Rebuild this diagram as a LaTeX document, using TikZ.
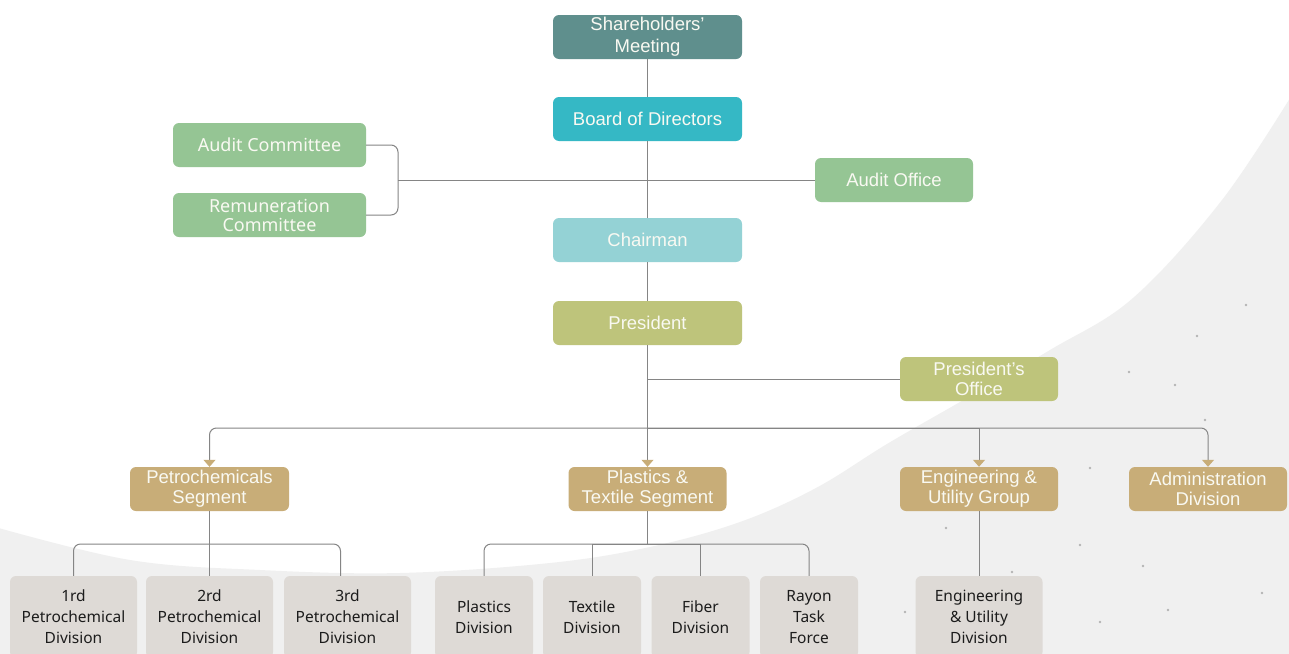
\documentclass[tikz,border=0pt]{standalone}
\usepackage{fontspec}
\setmainfont{Liberation Sans}
\newfontfamily\notosans{Noto Sans}
\usetikzlibrary{arrows.meta}

\definecolor{cShare}{HTML}{5F8F8D}
\definecolor{cBoard}{HTML}{35B8C5}
\definecolor{cChair}{HTML}{94D2D5}
\definecolor{cPres}{HTML}{BEC47B}
\definecolor{cAudit}{HTML}{95C594}
\definecolor{cSeg}{HTML}{C8AD78}
\definecolor{cDiv}{HTML}{DEDAD6}
\definecolor{cLine}{HTML}{858585}
\definecolor{cText}{HTML}{F9F9F2}
\definecolor{cDark}{HTML}{1C1C1C}
\definecolor{cGround}{HTML}{F0F0F0}
\definecolor{cSpeck}{HTML}{B4B4B4}

\tikzset{
  box/.style={rectangle, rounded corners=6pt, inner sep=0pt, align=center,
    text=cText, font=\fontsize{18.5}{20}\selectfont},
  wide/.style={box, minimum width=189pt, minimum height=44pt},
  mid/.style={box, minimum width=158pt, minimum height=44pt},
  cmte/.style={box, fill=cAudit, minimum width=193pt, minimum height=44pt,
    font=\notosans\fontsize{18}{19}\selectfont},
  seg/.style={mid, fill=cSeg},
  divbox/.style={rectangle, rounded corners=6pt, inner sep=0pt, align=center,
    fill=cDiv, text=cDark, minimum height=82pt,
    font=\notosans\fontsize{15.5}{21}\selectfont},
  conn/.style={draw=cLine, line width=1pt},
  tosegment/.style={conn, -{Triangle[width=12pt,length=7pt,color=cSeg]}},
  speck/.style={fill=cSpeck},
}

\begin{document}
\begin{tikzpicture}[x=1pt, y=-1pt]
\useasboundingbox (0,0) rectangle (1289,653);
\clip (0,0) rectangle (1289,653);
\fill[white] (0,0) rectangle (1289,653);

% textured ground sweeping up to the right
\fill[cGround] plot[smooth, tension=0.6] coordinates {
  (-5,527) (130,560) (260,570) (400,573) (550,563) (650,547) (740,522)
  (816,488) (887,444) (960,402) (1050,350) (1133,298) (1222,200) (1295,90)}
  -- (1300,670) -- (-10,670) -- cycle;
\foreach \p in {(1175,385),(1129,372),(1197,336),(1246,305),(1035,500),
  (946,528),(1090,468),(1012,572),(1143,566),(1262,593),(1100,622),
  (905,612),(1168,610),(1230,470),(1080,545),(1205,420)}
  \fill[speck] \p circle (1.3pt);

% governance
\node[wide, fill=cShare, font=\fontsize{18.5}{22}\selectfont] (sh) at (647.5,37) {Shareholders'\\Meeting};
\node[wide, fill=cBoard] (bod) at (647.5,119) {Board of Directors};
\node[wide, fill=cChair] (chair) at (647.5,240) {Chairman};
\node[wide, fill=cPres] (pres) at (647.5,323) {President};
\node[cmte] (ac) at (269.5,145) {Audit Committee};
\node[cmte] (rc) at (269.5,215) {Remuneration\\Committee};
\node[mid, fill=cAudit] (ao) at (894,180) {Audit Office};
\node[mid, fill=cPres] (po) at (979,379) {President's\\Office};

% segments
\node[seg, minimum width=159pt] (petro) at (209.5,489) {Petrochemicals\\Segment};
\node[seg] (pts) at (647.5,489) {Plastics \&\\Textile Segment};
\node[seg] (engg) at (979,489) {Engineering \&\\Utility Group};
\node[seg] (adm) at (1208,489) {Administration\\Division};

% divisions
\node[divbox, minimum width=127pt] (p1) at (73.5,617) {1rd\\Petrochemical\\Division};
\node[divbox, minimum width=127pt] (p2) at (209.5,617) {2rd\\Petrochemical\\Division};
\node[divbox, minimum width=127pt] (p3) at (347.5,617) {3rd\\Petrochemical\\Division};
\node[divbox, minimum width=98pt] (plas) at (484,617) {Plastics\\Division};
\node[divbox, minimum width=98pt] (tex) at (592,617) {Textile\\Division};
\node[divbox, minimum width=98pt] (fib) at (700.5,617) {Fiber\\Division};
\node[divbox, minimum width=98pt] (ray) at (809,617) {Rayon\\Task\\Force};
\node[divbox, minimum width=127pt] (engd) at (979,617) {Engineering\\\& Utility\\Division};

% junction points
\coordinate (brk) at (398,180);
\coordinate (poJ) at (647.5,379);
\coordinate (bus) at (647.5,428);
\coordinate (petroBus) at (209.5,544);
\coordinate (ptsBus) at (647.5,544);

% main chain
\draw[conn] (sh) -- (bod);
\draw[conn] (bod) -- (chair);
\draw[conn] (chair) -- (pres);
\draw[tosegment] (pres) -- (pts);
\draw[conn] (poJ) -- (po);

% committees and audit office
\draw[conn, rounded corners=7pt] (ac) -| (brk) |- (rc);
\draw[conn] (brk) -- (ao);

% segment bus
\draw[tosegment, rounded corners=7pt] (bus) -| (petro);
\draw[tosegment, rounded corners=7pt] (bus) -| (adm);
\draw[tosegment] (bus) -| (engg);

% petrochemical divisions
\draw[conn] (petro) -- (p2);
\draw[conn, rounded corners=7pt] (petroBus) -| (p1);
\draw[conn, rounded corners=7pt] (petroBus) -| ([xshift=-7pt]p3.north);

% plastics and textile divisions
\draw[conn] (pts) -- (ptsBus);
\draw[conn, rounded corners=7pt] (ptsBus) -| (plas);
\draw[conn, rounded corners=7pt] (ptsBus) -| (ray);
\draw[conn] (ptsBus) -| (tex);
\draw[conn] (ptsBus) -| (fib);

% engineering division
\draw[conn] (engg) -- (engd);
\end{tikzpicture}
\end{document}
